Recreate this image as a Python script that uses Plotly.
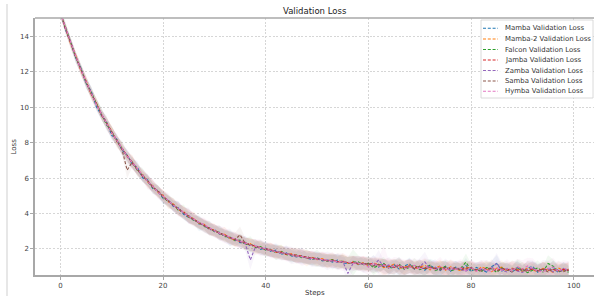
import plotly.graph_objects as go

steps = list(range(100))

names = ["Mamba Validation Loss", "Mamba-2 Validation Loss", "Falcon Validation Loss",
         "Jamba Validation Loss", "Zamba Validation Loss", "Samba Validation Loss",
         "Hymba Validation Loss"]
colors = ["#1f77b4", "#ff7f0e", "#2ca02c", "#d62728", "#9467bd", "#8c564b", "#e377c2"]

mamba = [15.41,14.38,13.70,12.79,12.21,11.36,10.92,10.05,9.55,9.18,
         8.42,8.20,7.58,7.31,6.80,6.61,6.02,5.90,5.41,5.30,
         4.85,4.78,4.40,4.33,3.96,3.78,3.70,3.41,3.38,3.09,
         3.10,2.84,2.81,2.58,2.60,2.35,2.38,2.17,2.22,1.98,
         2.05,1.86,1.93,1.70,1.78,1.61,1.55,1.63,1.47,1.42,
         1.51,1.33,1.38,1.26,1.37,1.22,1.17,1.30,1.12,1.20,
         1.08,1.22,0.98,1.15,0.90,1.12,0.86,1.04,1.16,0.85,
         1.02,0.80,1.10,0.88,0.78,1.03,0.74,0.98,0.82,1.07,
         0.72,0.96,0.84,0.70,1.00,1.18,0.76,0.90,0.68,0.95,
         0.74,0.92,1.02,0.69,0.88,0.78,0.97,0.66,0.90,0.77]
mamba2 = [15.30,14.52,13.58,12.93,12.08,11.50,10.74,10.26,9.57,9.14,
          8.66,8.05,7.73,7.20,6.94,6.45,6.22,5.77,5.58,5.19,
          5.03,4.66,4.55,4.20,4.11,3.80,3.72,3.44,3.39,3.12,
          3.08,2.86,2.83,2.61,2.49,2.47,2.28,2.30,2.10,2.12,
          1.94,1.97,1.80,1.84,1.68,1.72,1.58,1.63,1.47,1.53,
          1.39,1.46,1.31,1.39,1.26,1.33,1.19,1.28,1.14,1.22,
          1.05,1.20,1.14,0.95,1.02,1.15,0.90,0.97,1.10,0.86,
          0.98,1.08,0.82,0.93,1.04,0.79,0.99,0.87,0.76,0.97,
          0.93,0.75,0.99,0.88,0.72,0.91,0.97,0.74,0.92,0.85,
          0.73,0.94,0.83,0.70,0.90,0.82,0.68,0.93,0.78,0.86]
falcon = [15.28,14.55,13.69,12.80,12.19,11.38,10.86,10.22,9.66,9.01,
          8.63,8.09,7.71,7.22,6.91,6.44,6.19,5.86,5.47,5.28,
          4.91,4.69,4.52,4.18,4.09,3.81,3.61,3.52,3.27,3.20,
          2.98,2.94,2.70,2.68,2.47,2.50,2.26,2.27,2.09,2.13,
          1.93,1.95,1.79,1.88,1.69,1.63,1.66,1.51,1.58,1.42,
          1.47,1.36,1.31,1.40,1.25,1.33,1.19,1.24,1.27,1.11,
          1.20,0.94,1.07,1.18,0.90,0.97,1.15,0.85,0.96,1.09,
          0.84,0.93,1.08,0.78,0.89,1.01,0.75,0.86,0.92,1.25,
          0.80,0.86,0.71,0.95,0.88,0.68,0.93,0.82,0.72,0.98,
          0.86,0.66,0.79,0.94,0.70,1.18,1.03,0.72,0.83,0.69]
jamba = [15.37,14.44,13.66,12.90,12.10,11.47,10.78,10.21,9.60,9.12,
         8.56,8.15,7.64,7.29,6.84,6.53,6.12,5.86,5.49,5.27,
         4.99,4.70,4.50,4.24,4.08,3.83,3.69,3.47,3.36,3.15,
         3.05,2.88,2.80,2.63,2.56,2.41,2.36,2.22,2.18,2.05,
         2.01,1.95,1.83,1.82,1.71,1.70,1.64,1.59,1.55,1.50,
         1.46,1.42,1.34,1.37,1.28,1.29,1.22,1.24,1.17,1.19,
         1.14,1.18,1.04,1.12,1.03,0.96,1.08,0.93,1.02,0.95,
         0.99,0.89,0.97,0.91,0.97,0.85,0.93,0.84,0.94,0.86,
         0.93,0.82,0.90,0.84,0.93,0.79,0.89,0.82,0.88,0.78,
         0.87,0.80,0.86,0.77,0.88,0.80,0.84,0.76,0.86,0.79]
zamba = [15.33,14.50,13.61,12.84,12.16,11.41,10.83,10.15,9.65,9.05,
         8.62,8.10,7.70,7.23,6.90,6.47,6.18,5.80,5.55,5.21,
         4.94,4.75,4.45,4.29,4.02,3.88,3.63,3.51,3.30,3.19,
         3.00,2.92,2.74,2.67,2.51,2.45,2.30,1.38,2.12,2.09,
         1.96,1.90,1.87,1.76,1.75,1.64,1.60,1.54,1.50,1.45,
         1.41,1.38,1.33,1.35,1.24,1.30,0.62,1.18,1.22,1.13,
         1.16,1.05,1.38,1.00,1.10,0.94,1.05,0.90,1.04,0.88,
         1.00,1.27,0.88,0.97,0.82,0.95,0.78,0.93,0.84,0.75,
         0.92,0.78,0.88,0.72,0.90,1.20,0.80,0.70,0.91,0.76,
         0.67,0.86,0.92,0.73,0.84,0.90,0.70,0.85,0.75,0.88]
samba = [15.39,14.41,13.67,12.83,12.15,11.47,10.76,10.23,9.58,9.11,
         8.61,8.14,7.62,6.45,6.92,6.48,6.13,5.85,5.50,5.26,
         4.95,4.74,4.46,4.28,4.03,3.87,3.64,3.50,3.31,3.18,
         3.02,2.91,2.75,2.66,2.52,2.80,2.31,2.26,2.13,2.08,
         1.98,1.91,1.86,1.77,1.74,1.66,1.60,1.58,1.50,1.49,
         1.42,1.39,1.35,1.31,1.31,1.25,1.23,1.20,1.20,1.14,
         1.17,1.04,1.13,1.00,0.95,1.09,1.00,0.90,1.03,0.89,
         1.03,0.86,0.99,0.90,0.82,0.97,0.87,0.95,0.79,0.91,
         0.95,0.80,0.76,0.92,0.87,0.74,0.90,0.82,0.71,0.88,
         0.80,0.73,0.89,0.77,0.86,0.70,0.87,0.78,0.72,0.85]
hymba = [15.32,14.49,13.62,12.88,12.11,11.45,10.82,10.17,9.63,9.07,
         8.57,8.13,7.69,7.24,6.89,6.51,6.14,5.82,5.54,5.22,
         4.98,4.71,4.49,4.25,4.07,3.84,3.68,3.48,3.34,3.16,
         3.04,2.89,2.78,2.64,2.55,2.42,2.34,2.23,2.16,2.06,
         2.00,1.91,1.86,1.78,1.74,1.66,1.63,1.56,1.53,1.47,
         1.45,1.39,1.37,1.32,1.31,1.26,1.25,1.20,1.20,1.15,
         0.98,1.22,1.02,1.11,0.92,1.07,1.10,0.88,0.97,1.08,
         0.85,1.02,0.93,0.82,1.00,0.79,0.95,0.84,0.93,0.77,
         0.98,0.74,0.91,0.80,0.72,0.94,0.79,0.89,0.74,1.00,
         0.86,1.04,0.92,0.76,0.70,0.89,0.98,0.73,0.90,0.84]

mamba_std = [0.22,0.25,0.20,0.28,0.24,0.31,0.26,0.23,0.29,0.35,
             0.27,0.30,0.25,0.33,0.28,0.36,0.24,0.31,0.29,0.27,
             0.34,0.26,0.30,0.38,0.25,0.32,0.29,0.41,0.27,0.33,
             0.30,0.36,0.28,0.43,0.31,0.26,0.37,0.30,0.34,0.29,
             0.39,0.32,0.35,0.28,0.41,0.33,0.30,0.45,0.29,0.36,
             0.32,0.38,0.27,0.42,0.35,0.31,0.40,0.28,0.37,0.33,
             0.30,0.44,0.35,0.29,0.38,0.32,0.41,0.27,0.36,0.33,
             0.39,0.30,0.35,0.46,0.31,0.28,0.37,0.34,0.30,0.42,
             0.33,0.29,0.38,0.35,0.31,0.48,0.36,0.30,0.34,0.40,
             0.32,0.37,0.29,0.43,0.35,0.31,0.39,0.33,0.36,0.30]
mamba2_std = [0.25,0.21,0.27,0.23,0.30,0.26,0.33,0.24,0.28,0.31,
              0.26,0.34,0.29,0.25,0.37,0.30,0.27,0.35,0.31,0.28,
              0.32,0.40,0.27,0.34,0.30,0.29,0.39,0.33,0.28,0.36,
              0.34,0.29,0.41,0.32,0.37,0.30,0.35,0.28,0.44,0.33,
              0.31,0.38,0.34,0.42,0.30,0.37,0.33,0.39,0.46,0.32,
              0.36,0.30,0.41,0.35,0.29,0.43,0.37,0.33,0.31,0.40,
              0.35,0.32,0.38,0.47,0.34,0.30,0.36,0.39,0.31,0.44,
              0.33,0.37,0.42,0.30,0.36,0.34,0.40,0.31,0.45,0.35,
              0.38,0.33,0.30,0.41,0.37,0.34,0.39,0.32,0.43,0.36,
              0.31,0.40,0.35,0.33,0.38,0.45,0.32,0.37,0.34,0.41]
falcon_std = [0.20,0.26,0.24,0.29,0.22,0.27,0.31,0.25,0.33,0.28,
              0.30,0.26,0.35,0.29,0.32,0.27,0.38,0.30,0.26,0.34,
              0.29,0.33,0.36,0.28,0.42,0.31,0.27,0.35,0.32,0.38,
              0.29,0.34,0.31,0.39,0.28,0.36,0.33,0.45,0.30,0.35,
              0.37,0.31,0.43,0.34,0.32,0.39,0.36,0.30,0.41,0.35,
              0.48,0.33,0.37,0.31,0.40,0.36,0.34,0.75,0.38,0.32,
              0.37,0.41,0.33,0.36,0.30,0.42,0.38,0.35,0.31,0.39,
              0.36,0.48,0.33,0.38,0.41,0.32,0.35,0.39,0.30,0.50,
              0.37,0.34,0.42,0.31,0.36,0.40,0.33,0.38,0.35,0.44,
              0.39,0.32,0.36,0.41,0.34,0.47,0.37,0.33,0.40,0.35]
jamba_std = [0.23,0.28,0.25,0.22,0.29,0.33,0.27,0.30,0.24,0.32,
             0.35,0.28,0.31,0.26,0.34,0.30,0.29,0.36,0.27,0.33,
             0.31,0.28,0.37,0.32,0.30,0.40,0.33,0.29,0.35,0.31,
             0.38,0.32,0.30,0.36,0.41,0.33,0.29,0.37,0.35,0.31,
             0.34,0.40,0.36,0.30,0.38,0.35,0.43,0.32,0.37,0.34,
             0.30,0.39,0.36,0.44,0.33,0.38,0.31,0.36,0.42,0.35,
             0.39,0.33,0.37,0.31,0.45,0.36,0.34,0.40,0.38,0.32,
             0.41,0.35,0.31,0.39,0.36,0.43,0.33,0.37,0.40,0.34,
             0.36,0.42,0.38,0.33,0.47,0.35,0.31,0.39,0.37,0.34,
             0.40,0.36,0.43,0.32,0.38,0.35,0.41,0.34,0.39,0.37]
zamba_std = [0.24,0.30,0.27,0.33,0.29,0.26,0.35,0.31,0.28,0.37,
             0.32,0.29,0.40,0.34,0.30,0.38,0.33,0.43,0.31,0.36,
             0.34,0.41,0.32,0.37,0.35,0.45,0.33,0.39,0.36,0.42,
             0.35,0.40,0.37,0.48,0.34,0.41,0.38,0.55,0.36,0.43,
             0.39,0.35,0.46,0.40,0.37,0.50,0.38,0.42,0.36,0.47,
             0.41,0.38,0.53,0.40,0.44,0.37,0.60,0.42,0.39,0.48,
             0.43,0.40,0.56,0.38,0.45,0.41,0.49,0.37,0.44,0.42,
             0.47,0.58,0.40,0.45,0.39,0.51,0.43,0.41,0.48,0.38,
             0.46,0.42,0.50,0.39,0.44,0.57,0.41,0.47,0.43,0.52,
             0.40,0.49,0.45,0.42,0.54,0.44,0.41,0.50,0.46,0.43]
samba_std = [0.21,0.24,0.28,0.25,0.31,0.23,0.27,0.32,0.29,0.26,
             0.33,0.28,0.31,0.45,0.30,0.35,0.27,0.32,0.38,0.29,
             0.34,0.31,0.28,0.36,0.33,0.39,0.30,0.35,0.32,0.37,
             0.31,0.42,0.34,0.30,0.38,0.47,0.33,0.36,0.32,0.40,
             0.35,0.38,0.33,0.41,0.36,0.31,0.44,0.37,0.34,0.39,
             0.36,0.42,0.35,0.33,0.45,0.38,0.34,0.40,0.37,0.43,
             0.34,0.39,0.36,0.42,0.38,0.33,0.46,0.37,0.40,0.35,
             0.38,0.43,0.36,0.34,0.41,0.39,0.45,0.35,0.38,0.42,
             0.37,0.33,0.40,0.44,0.36,0.39,0.35,0.48,0.38,0.41,
             0.36,0.43,0.39,0.35,0.42,0.38,0.46,0.37,0.40,0.39]
hymba_std = [0.26,0.23,0.30,0.27,0.25,0.32,0.29,0.35,0.27,0.33,
             0.30,0.37,0.28,0.34,0.39,0.31,0.36,0.29,0.41,0.33,
             0.37,0.30,0.35,0.43,0.32,0.38,0.34,0.31,0.44,0.36,
             0.33,0.39,0.46,0.35,0.32,0.41,0.37,0.34,0.40,0.48,
             0.36,0.43,0.38,0.35,0.45,0.40,0.37,0.52,0.39,0.42,
             0.38,0.47,0.41,0.37,0.44,0.51,0.40,0.45,0.39,0.43,
             0.49,0.41,0.46,1.10,0.42,0.47,0.40,0.53,0.44,0.41,
             0.46,0.50,0.43,0.48,0.55,0.42,0.47,0.44,0.51,0.45,
             0.43,0.49,0.46,0.58,0.44,0.48,0.42,0.53,0.47,0.45,
             0.50,0.46,0.56,0.44,0.49,0.47,0.52,0.45,0.48,0.46]

series = [mamba, mamba2, falcon, jamba, zamba, samba, hymba]
stds = [mamba_std, mamba2_std, falcon_std, jamba_std, zamba_std, samba_std, hymba_std]

x_ticks = [0, 20, 40, 60, 80, 100]
y_ticks = [2, 4, 6, 8, 10, 12, 14]

FONT = "DejaVu Sans"
W, H = 594, 296
ML, MR, MT, MB = 35, 0, 18, 21
PW, PH = W - ML - MR, H - MT - MB


def px(xp):
    return (xp - ML) / PW


def py(yp):
    return (H - MB - yp) / PH


def rgba(hexc, a):
    h = hexc.lstrip("#")
    return "rgba(%d,%d,%d,%s)" % (int(h[0:2], 16), int(h[2:4], 16), int(h[4:6], 16), a)


fig = go.Figure()
for name, col, vals, sd in zip(names, colors, series, stds):
    upper = [v + s for v, s in zip(vals, sd)]
    lower = [v - s for v, s in zip(vals, sd)]
    fig.add_trace(go.Scatter(
        x=steps + steps[::-1], y=upper + lower[::-1], fill="toself",
        fillcolor=rgba(col, 0.065), line=dict(width=0), mode="lines",
        showlegend=False, hoverinfo="skip"))
for name, col, vals in zip(names, colors, series):
    fig.add_trace(go.Scatter(
        x=steps, y=vals, mode="lines", name=name,
        line=dict(color=col, width=1.1, dash="3px,1.8px"), showlegend=False))

axis_common = dict(
    showline=True, linecolor="#a8a8a8", linewidth=1.5,
    ticks="outside", ticklen=3, tickcolor="#a8a8a8", tickwidth=1,
    showgrid=True, gridcolor="#d6d6d6", gridwidth=0.8, griddash="2px,1.6px",
    zeroline=False, tickfont=dict(family=FONT, size=7, color="#444"),
)
fig.update_xaxes(range=[-4.95, 103.95], tickvals=x_ticks, **axis_common)
fig.update_yaxes(range=[0.53, 15.05], tickvals=y_ticks, **axis_common)

shapes = [
    dict(type="line", xref="paper", yref="paper", x0=0, x1=1, y0=1, y1=1,
         line=dict(color="#a8a8a8", width=1.5), layer="above"),
    dict(type="line", xref="paper", yref="paper", x0=px(7), x1=px(7), y0=py(4), y1=py(296),
         line=dict(color="#cfcfcf", width=1), layer="above"),
    dict(type="rect", xref="paper", yref="paper", x0=px(481), x1=px(593), y0=py(98), y1=py(20),
         line=dict(color="#d0d0d0", width=0.8), fillcolor="rgba(255,255,255,0.85)", layer="above"),
]
annotations = [
    dict(text="Validation Loss", xref="paper", yref="paper", x=0.5, y=py(11),
         xanchor="center", yanchor="middle", showarrow=False,
         font=dict(family=FONT, size=8.5, color="#222")),
    dict(text="Steps", xref="paper", yref="paper", x=0.5, y=py(293),
         xanchor="center", yanchor="middle", showarrow=False,
         font=dict(family=FONT, size=7, color="#333")),
    dict(text="Loss", xref="paper", yref="paper", x=px(13), y=0.5, textangle=-90,
         xanchor="center", yanchor="middle", showarrow=False,
         font=dict(family=FONT, size=7, color="#333")),
]
leg_y = [28.3, 39.0, 49.5, 60.0, 70.5, 81.0, 91.3]
for name, col, yc in zip(names, colors, leg_y):
    shapes.append(dict(type="line", xref="paper", yref="paper", x0=px(483), x1=px(498),
                       y0=py(yc), y1=py(yc), layer="above",
                       line=dict(color=col, width=1.1, dash="3px,1.8px")))
    annotations.append(dict(text=name, xref="paper", yref="paper", x=px(502.5), y=py(yc),
                            xanchor="left", yanchor="middle", showarrow=False,
                            font=dict(family=FONT, size=6.9, color="#333")))

fig.update_layout(
    width=W, height=H, margin=dict(l=ML, r=MR, t=MT, b=MB),
    plot_bgcolor="white", paper_bgcolor="white",
    showlegend=False, shapes=shapes, annotations=annotations,
)

fig.write_html("out.html", config={"displayModeBar": False},
               post_script="document.body.style.margin='0';document.body.style.overflow='hidden';")
